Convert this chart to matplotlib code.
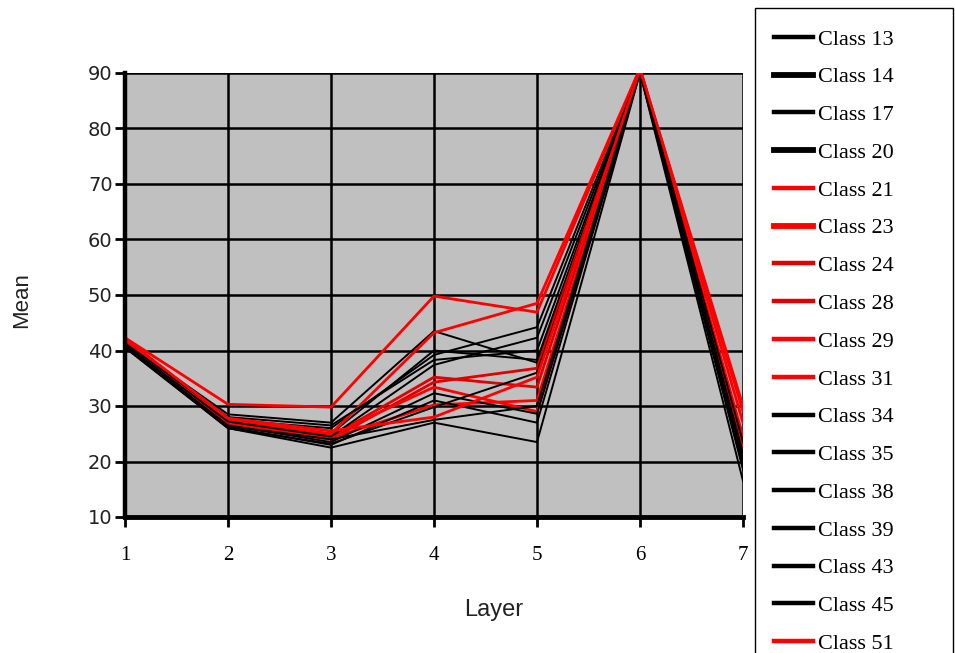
import matplotlib
matplotlib.use("Agg")
import matplotlib.pyplot as plt
from matplotlib.lines import Line2D
from matplotlib.patches import Rectangle

layers = [1, 2, 3, 4, 5, 6, 7]
class_names = ["Class 13", "Class 14", "Class 17", "Class 20", "Class 21", "Class 23",
               "Class 24", "Class 28", "Class 29", "Class 31", "Class 34", "Class 35",
               "Class 38", "Class 39", "Class 43", "Class 45", "Class 51"]
class_colors = ["#000000", "#000000", "#000000", "#000000", "#ff0000", "#ff0000",
                "#e00000", "#e00000", "#ff0000", "#ff0000", "#000000", "#000000",
                "#000000", "#000000", "#000000", "#000000", "#ff0000"]
class13 = [41.0, 27.0, 25.0, 40.0, 38.3, 90.3, 21.0]
class14 = [41.5, 28.5, 27.0, 43.5, 37.8, 90.5, 22.0]
class17 = [40.5, 26.0, 22.5, 27.0, 23.5, 90.0, 16.5]
class20 = [41.2, 27.5, 26.0, 39.2, 44.2, 90.6, 23.0]
class21 = [42.3, 30.3, 29.8, 49.8, 46.9, 90.8, 29.0]
class23 = [42.0, 27.5, 25.0, 43.2, 48.5, 90.8, 27.0]
class24 = [41.8, 27.0, 24.5, 35.2, 33.4, 90.5, 20.5]
class28 = [41.5, 26.5, 24.0, 34.3, 36.8, 90.4, 19.5]
class29 = [42.0, 27.0, 24.8, 33.4, 29.0, 90.6, 22.5]
class31 = [41.7, 26.8, 24.2, 30.2, 31.0, 90.5, 24.5]
class34 = [40.8, 26.5, 23.5, 32.3, 28.6, 90.2, 20.0]
class35 = [41.0, 27.2, 24.5, 37.4, 42.3, 90.4, 21.5]
class38 = [40.6, 26.2, 23.0, 31.0, 27.0, 90.1, 18.5]
class39 = [41.3, 28.0, 26.5, 38.3, 40.0, 90.5, 23.5]
class43 = [40.7, 26.0, 23.2, 29.8, 36.0, 90.2, 19.0]
class45 = [40.9, 26.4, 24.0, 27.5, 30.0, 90.3, 20.5]
class51 = [42.2, 27.8, 25.5, 28.0, 35.2, 90.7, 30.0]
series = [class13, class14, class17, class20, class21, class23, class24, class28, class29,
          class31, class34, class35, class38, class39, class43, class45, class51]
y_ticks = [10, 20, 30, 40, 50, 60, 70, 80, 90]

W, H = 955, 653
fig = plt.figure(figsize=(W/100, H/100), dpi=100)
ax = fig.add_axes([125/W, 1-517/H, (743-125)/W, (517-73)/H])
ax.set_facecolor("#c0c0c0")
ax.set_xlim(1, 7)
ax.set_ylim(10, 90)

for yv in y_ticks:
    ax.axhline(yv, color="black", lw=1.8, zorder=1)
for xv in layers:
    ax.axvline(xv, color="black", lw=1.8, zorder=1)

for name, col, vals in zip(class_names, class_colors, series):
    lw = 2.0 if col != "#000000" else 1.4
    ax.plot(layers, vals, color=col, lw=lw, zorder=3, label=name)

for s in ["top", "right"]:
    ax.spines[s].set_visible(False)
ax.spines["left"].set_linewidth(3.2)
ax.spines["bottom"].set_linewidth(3.5)
ax.spines["left"].set_zorder(5)
ax.spines["bottom"].set_zorder(5)

ax.set_yticks(y_ticks)
ax.set_xticks(layers)
ax.tick_params(axis="y", direction="out", length=7, width=2, labelsize=14, pad=2)
ax.tick_params(axis="x", direction="out", length=7, width=2, pad=14)
for lab in ax.get_xticklabels():
    lab.set_fontfamily("Liberation Serif")
    lab.set_fontsize(15)
for lab in ax.get_yticklabels():
    lab.set_fontfamily("DejaVu Sans")
    lab.set_color("#222222")

fig.text(22/W, 1-300/H, "Mean", rotation=90, ha="center", va="center",
         fontsize=16, family="Liberation Sans", color="#222222")
fig.text(494/W, 1-610/H, "Layer", ha="center", va="center",
         fontsize=17, family="Liberation Sans", color="#222222")

# legend frame (extends below the figure edge like the reference)
fig.patches.append(Rectangle((755/W, -0.05), (953-755)/W, 1-8/H+0.05,
                             transform=fig.transFigure, facecolor="white",
                             edgecolor="black", lw=1.0, zorder=0))

leg_handles = []
for name, col in zip(class_names, class_colors):
    thick = 4.2 if name in ("Class 14", "Class 20", "Class 23") else 3.2
    leg_handles.append(Line2D([0], [0], color=col, lw=thick))
leg = fig.legend(leg_handles, class_names, loc="upper left",
                 bbox_to_anchor=(774/W, 1-29/H),
                 frameon=False,
                 prop={"family": "Liberation Serif", "size": 16},
                 handlelength=1.75, handletextpad=0.25, labelspacing=0.775,
                 borderpad=0.0, borderaxespad=0)

fig.savefig("out.png", dpi=100)
